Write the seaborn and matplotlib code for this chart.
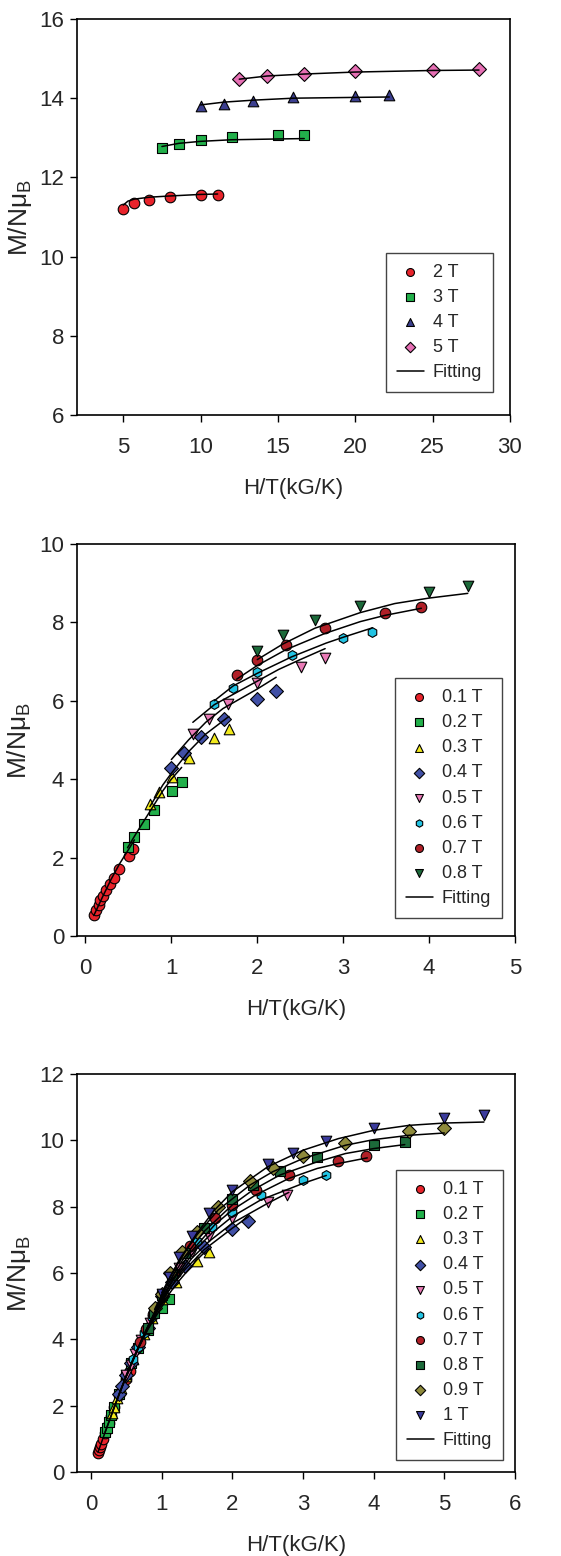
import matplotlib
matplotlib.use('Agg')
import matplotlib.pyplot as plt
import seaborn as sns

# ---- panel 1 : 2-5 T ----
p1_fields = ['2 T', '3 T', '4 T', '5 T']
p1_x = [[5.0, 5.72, 6.65, 8.0, 10.0, 11.1],
        [7.5, 8.58, 10.0, 12.0, 15.0, 16.67],
        [10.0, 11.5, 13.4, 16.0, 20.0, 22.2],
        [12.5, 14.3, 16.7, 20.0, 25.0, 28.0]]
p1_y = [[11.2, 11.35, 11.43, 11.5, 11.55, 11.56],
        [12.74, 12.84, 12.94, 13.02, 13.07, 13.08],
        [13.8, 13.86, 13.94, 14.02, 14.06, 14.08],
        [14.49, 14.55, 14.62, 14.69, 14.72, 14.74]]
p1_fit_x = [[5.0, 5.3, 5.7, 6.7, 8.0, 10.0, 11.1],
            [7.5, 8.6, 10.0, 12.0, 15.0, 16.7],
            [10.0, 11.5, 13.4, 16.0, 20.0, 22.2],
            [12.5, 14.3, 16.7, 20.0, 25.0, 28.0]]
p1_fit_y = [[11.3, 11.4, 11.45, 11.5, 11.53, 11.57, 11.58],
            [12.78, 12.86, 12.91, 12.95, 12.97, 12.98],
            [13.83, 13.9, 13.95, 14.0, 14.02, 14.03],
            [14.48, 14.56, 14.61, 14.66, 14.7, 14.71]]

# ---- panel 2 : 0.1-0.8 T ----
p2_fields = ['0.1 T', '0.2 T', '0.3 T', '0.4 T', '0.5 T', '0.6 T', '0.7 T', '0.8 T']
p2_x = [[0.097, 0.124, 0.152, 0.175, 0.202, 0.241, 0.28, 0.33, 0.396, 0.505, 0.552],
        [0.49, 0.57, 0.68, 0.8, 1.01, 1.12],
        [0.75, 0.86, 1.01, 1.2, 1.5, 1.67],
        [1.0, 1.15, 1.34, 1.61, 2.0, 2.22],
        [1.25, 1.44, 1.66, 2.0, 2.51, 2.79],
        [1.5, 1.72, 2.0, 2.4, 3.0, 3.34],
        [1.76, 2.0, 2.33, 2.79, 3.49, 3.91],
        [2.0, 2.3, 2.67, 3.2, 4.0, 4.45]]
p2_y = [[0.53, 0.66, 0.78, 0.91, 1.01, 1.18, 1.32, 1.48, 1.72, 2.04, 2.21],
        [2.27, 2.53, 2.85, 3.21, 3.71, 3.94],
        [3.36, 3.68, 4.06, 4.53, 5.04, 5.27],
        [4.29, 4.66, 5.07, 5.53, 6.04, 6.25],
        [5.14, 5.53, 5.93, 6.45, 6.87, 7.09],
        [5.92, 6.32, 6.73, 7.16, 7.6, 7.76],
        [6.66, 7.04, 7.43, 7.86, 8.24, 8.4],
        [7.27, 7.68, 8.05, 8.42, 8.78, 8.92]]
p2_fit_x = [[0.097, 0.2, 0.3, 0.4, 0.5, 0.57],
            [0.49, 0.6, 0.7, 0.8, 0.9, 1.0, 1.12],
            [0.75, 0.9, 1.0, 1.2, 1.4, 1.67],
            [1.0, 1.2, 1.4, 1.6, 1.8, 2.0, 2.22],
            [1.25, 1.5, 1.75, 2.0, 2.25, 2.5, 2.79],
            [1.5, 1.72, 2.0, 2.4, 2.8, 3.0, 3.34],
            [1.76, 2.0, 2.33, 2.79, 3.2, 3.49, 3.91],
            [2.0, 2.3, 2.67, 3.2, 3.6, 4.0, 4.45]]
p2_fit_y = [[0.52, 1.0, 1.45, 1.85, 2.2, 2.45],
            [2.25, 2.65, 3.0, 3.35, 3.7, 4.0, 4.3],
            [3.3, 3.85, 4.15, 4.7, 5.15, 5.6],
            [4.5, 5.0, 5.45, 5.8, 6.05, 6.3, 6.6],
            [5.45, 5.9, 6.2, 6.5, 6.8, 7.05, 7.33],
            [6.0, 6.38, 6.7, 7.12, 7.47, 7.62, 7.86],
            [6.55, 6.9, 7.3, 7.72, 8.02, 8.18, 8.36],
            [7.05, 7.45, 7.85, 8.25, 8.48, 8.62, 8.74]]

# ---- panel 3 : 0.1-1 T ----
p3_fields = ['0.1 T', '0.2 T', '0.3 T', '0.4 T', '0.5 T', '0.6 T', '0.7 T', '0.8 T', '0.9 T', '1 T']
p3_x = [[0.1, 0.11, 0.125, 0.14, 0.17, 0.2, 0.25, 0.29, 0.33, 0.4, 0.5, 0.55],
        [0.2, 0.22, 0.25, 0.29, 0.33, 0.4, 0.5, 0.57, 0.67, 0.8, 1.0, 1.11],
        [0.3, 0.33, 0.375, 0.43, 0.5, 0.6, 0.75, 0.86, 1.0, 1.2, 1.5, 1.67],
        [0.4, 0.44, 0.5, 0.57, 0.67, 0.8, 1.0, 1.14, 1.33, 1.6, 2.0, 2.22],
        [0.5, 0.56, 0.625, 0.71, 0.83, 1.0, 1.25, 1.43, 1.67, 2.0, 2.5, 2.78],
        [0.6, 0.67, 0.75, 0.86, 1.0, 1.2, 1.5, 1.71, 2.0, 2.4, 3.0, 3.33],
        [0.7, 0.78, 0.875, 1.0, 1.17, 1.4, 1.75, 2.0, 2.33, 2.8, 3.5, 3.89],
        [0.8, 0.89, 1.0, 1.14, 1.33, 1.6, 2.0, 2.29, 2.67, 3.2, 4.0, 4.44],
        [0.9, 1.0, 1.125, 1.29, 1.5, 1.8, 2.25, 2.57, 3.0, 3.6, 4.5, 5.0],
        [1.0, 1.11, 1.25, 1.43, 1.67, 2.0, 2.5, 2.86, 3.33, 4.0, 5.0, 5.56]]
p3_y = [[0.58, 0.66, 0.75, 0.85, 1.0, 1.18, 1.47, 1.7, 1.95, 2.33, 2.8, 3.03],
        [1.22, 1.33, 1.5, 1.72, 1.96, 2.35, 2.9, 3.28, 3.73, 4.28, 4.93, 5.2],
        [1.78, 1.96, 2.22, 2.52, 2.9, 3.42, 4.15, 4.65, 5.2, 5.72, 6.36, 6.62],
        [2.36, 2.6, 2.92, 3.3, 3.78, 4.35, 5.3, 5.72, 6.21, 6.78, 7.33, 7.58],
        [2.92, 3.22, 3.55, 3.98, 4.5, 5.28, 6.14, 6.62, 7.12, 7.65, 8.13, 8.34],
        [3.42, 3.78, 4.18, 4.68, 5.3, 6.0, 6.95, 7.4, 7.85, 8.34, 8.79, 8.96],
        [3.92, 4.3, 4.75, 5.32, 5.98, 6.8, 7.65, 8.04, 8.51, 8.94, 9.37, 9.52],
        [4.35, 4.8, 5.35, 5.95, 6.6, 7.35, 8.23, 8.66, 9.08, 9.49, 9.85, 9.95],
        [4.93, 5.38, 5.99, 6.62, 7.25, 7.98, 8.76, 9.16, 9.54, 9.92, 10.29, 10.37],
        [5.36, 5.89, 6.48, 7.12, 7.8, 8.51, 9.29, 9.62, 9.99, 10.36, 10.67, 10.75]]
p3_fit_x = [[0.1, 0.2, 0.3, 0.4, 0.5, 0.55],
            [0.2, 0.3, 0.4, 0.5, 0.67, 0.8, 1.0, 1.11],
            [0.3, 0.4, 0.5, 0.6, 0.75, 0.86, 1.0, 1.2, 1.5, 1.67],
            [0.4, 0.5, 0.67, 0.8, 1.0, 1.14, 1.33, 1.6, 2.0, 2.23],
            [0.5, 0.625, 0.83, 1.0, 1.25, 1.43, 1.67, 2.0, 2.5, 2.8],
            [0.6, 0.75, 1.0, 1.2, 1.5, 1.71, 2.0, 2.4, 3.0, 3.33],
            [0.7, 1.0, 1.17, 1.4, 1.75, 2.0, 2.33, 2.8, 3.2, 3.5, 3.91],
            [0.8, 1.0, 1.14, 1.33, 1.6, 2.0, 2.29, 2.67, 3.2, 3.6, 4.0, 4.44],
            [0.9, 1.125, 1.29, 1.5, 1.8, 2.25, 2.57, 3.0, 3.6, 4.0, 4.5, 5.0],
            [1.0, 1.25, 1.5, 1.75, 2.0, 2.5, 3.0, 3.5, 4.0, 4.5, 5.0, 5.56]]
p3_fit_y = [[0.6, 1.2, 1.78, 2.35, 2.88, 3.1],
            [1.2, 1.78, 2.35, 2.9, 3.72, 4.28, 4.98, 5.3],
            [1.8, 2.36, 2.9, 3.42, 4.1, 4.6, 5.05, 5.65, 6.4, 6.75],
            [2.36, 2.9, 3.75, 4.3, 5.1, 5.6, 6.1, 6.7, 7.35, 7.7],
            [2.92, 3.55, 4.5, 5.15, 5.95, 6.45, 6.95, 7.5, 8.1, 8.43],
            [3.42, 4.15, 5.2, 5.9, 6.75, 7.2, 7.7, 8.2, 8.7, 8.94],
            [3.9, 5.25, 5.85, 6.6, 7.45, 7.9, 8.35, 8.85, 9.15, 9.3, 9.47],
            [4.35, 5.3, 5.85, 6.5, 7.25, 8.05, 8.5, 8.95, 9.35, 9.6, 9.75, 9.87],
            [4.9, 5.9, 6.5, 7.15, 7.9, 8.65, 9.05, 9.45, 9.85, 10.02, 10.15, 10.22],
            [5.4, 6.4, 7.2, 7.9, 8.45, 9.2, 9.7, 10.05, 10.3, 10.45, 10.52, 10.55]]

# marker / colour per field
style = {
    '0.1 T': ('o', '#e8232b'), '0.2 T': ('s', '#22b04b'), '0.3 T': ('^', '#f2ea1d'),
    '0.4 T': ('D', '#4150a6'), '0.5 T': ('v', '#e97ab6'), '0.6 T': ('h', '#22c3e3'),
    '0.7 T': ('o', '#b01f27'), '0.9 T': ('D', '#8e8a3b'), '1 T': ('v', '#3b3b9c'),
    '2 T': ('o', '#e8232b'), '3 T': ('s', '#22b04b'), '4 T': ('^', '#3c3f8f'),
    '5 T': ('D', '#e66fb4'),
}

sns.set_style('ticks')
plt.rcParams['font.family'] = ['Liberation Sans', 'DejaVu Sans']
plt.rcParams['mathtext.fontset'] = 'custom'
plt.rcParams['mathtext.rm'] = 'Liberation Sans'

fig = plt.figure(figsize=(5.61, 15.56), dpi=100)
ax1 = fig.add_axes([0.137, 0.7333, 0.772, 0.2545])
ax2 = fig.add_axes([0.137, 0.3985, 0.781, 0.2519])
ax3 = fig.add_axes([0.137, 0.054, 0.781, 0.2558])


def draw(ax, fields, xs, ys, fxs, fys, mk08, xlim, ylim, xticks, yticks, leg_anchor):
    for f, x, y in zip(fields, xs, ys):
        if f == '0.8 T':
            m, c = mk08, '#1c6a3a'
        else:
            m, c = style[f]
        sz = 50 if m in ('D', 'h') else 58
        sns.scatterplot(x=x, y=y, ax=ax, marker=m, color=c, edgecolor='black',
                        linewidth=0.8, s=sz, label=f, zorder=3)
    for i, (fx, fy) in enumerate(zip(fxs, fys)):
        sns.lineplot(x=fx, y=fy, ax=ax, color='black', linewidth=1.1, sort=False,
                     estimator=None, label='Fitting' if i == 0 else '_nolegend_', zorder=4)
    ax.set_xlim(*xlim)
    ax.set_ylim(*ylim)
    ax.set_xticks(xticks)
    ax.set_yticks(yticks)
    ax.tick_params(direction='out', length=5, width=1, labelsize=16, color='black')
    ax.tick_params(axis='x', pad=11)
    ax.tick_params(axis='y', pad=4)
    for sp in ax.spines.values():
        sp.set_color('black')
        sp.set_linewidth(1.2)
    ax.set_xlabel('H/T(kG/K)', fontsize=16, labelpad=14)
    ax.set_ylabel('M/N\u03bc$_\\mathregular{B}$', fontsize=19)
    ax.yaxis.set_label_coords(-0.10, 0.5)
    ax.legend(loc='lower right', bbox_to_anchor=leg_anchor, borderaxespad=0,
              fontsize=13, frameon=True, fancybox=False, framealpha=1,
              edgecolor='#444444', markerscale=0.75, handlelength=1.5,
              labelspacing=0.45, borderpad=0.6, handletextpad=0.5)


draw(ax1, p1_fields, p1_x, p1_y, p1_fit_x, p1_fit_y, 'v', (2, 30), (6, 16),
     [5, 10, 15, 20, 25, 30], [6, 8, 10, 12, 14, 16], (0.961, 0.058))
draw(ax2, p2_fields, p2_x, p2_y, p2_fit_x, p2_fit_y, 'v', (-0.1, 5), (0, 10),
     [0, 1, 2, 3, 4, 5], [0, 2, 4, 6, 8, 10], (0.97, 0.046))
draw(ax3, p3_fields, p3_x, p3_y, p3_fit_x, p3_fit_y, 's', (-0.2, 6), (0, 12),
     [0, 1, 2, 3, 4, 5, 6], [0, 2, 4, 6, 8, 10, 12], (0.973, 0.03))

fig.savefig('out.png', dpi=100)
